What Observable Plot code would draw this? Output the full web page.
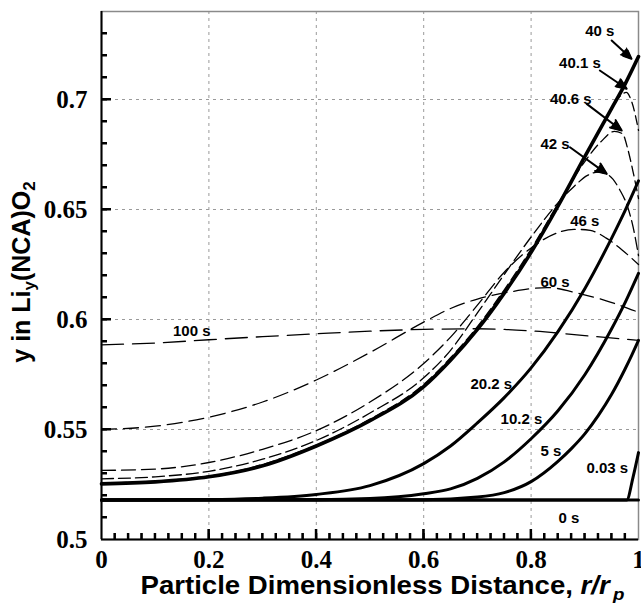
<!DOCTYPE html>
<html><head><meta charset="utf-8">
<script src="https://cdn.jsdelivr.net/npm/d3@7"></script>
<script src="https://cdn.jsdelivr.net/npm/@observablehq/plot@0.6"></script>
<style>body{margin:0;background:#fff}</style>
</head><body><div id="chart"></div>
<script>
// ---- tick values ----
const xMajorTicks = [0, 0.2, 0.4, 0.6, 0.8, 1];
const yMajorTicks = [0.5, 0.55, 0.6, 0.65, 0.7];
const xGridTicks = [0.2, 0.4, 0.6, 0.8];
const yGridTicks = [0.55, 0.6, 0.65, 0.7];
const xMinorTicks = d3.range(1, 40).map(i => +(i * 0.025).toFixed(3));
const yMinorTicks = d3.range(1, 24).map(i => +(0.5 + i * 0.01).toFixed(3));

// ---- series (r/rp, y) ----
const t0_x = [0, 1];
const t0_y = [0.518, 0.518];
const t003_x = [0, 0.978, 0.99, 1];
const t003_y = [0.518, 0.518, 0.5285, 0.5395];
const t5_x = [0, 0.6, 0.7, 0.75, 0.8, 0.85, 0.875, 0.9, 0.925, 0.95, 0.975, 0.9875, 1];
const t5_y = [0.518, 0.5181, 0.5193, 0.5213, 0.5263, 0.5355, 0.5413, 0.548, 0.5563, 0.566, 0.5775, 0.5838, 0.5905];
const t10_x = [0, 0.4, 0.5, 0.6, 0.65, 0.7, 0.75, 0.8, 0.85, 0.9, 0.95, 0.975, 1];
const t10_y = [0.518, 0.5181, 0.5186, 0.5208, 0.523, 0.5278, 0.5353, 0.5458, 0.5585, 0.5749, 0.5958, 0.6077, 0.621];
const t20_x = [0, 0.2, 0.3, 0.4, 0.5, 0.6, 0.65, 0.7, 0.75, 0.8, 0.85, 0.9, 0.95, 0.975, 1];
const t20_y = [0.518, 0.5182, 0.5188, 0.5205, 0.5245, 0.5345, 0.5425, 0.553, 0.5645, 0.578, 0.5945, 0.614, 0.637, 0.6495, 0.663];
const t40_x = [0, 0.1, 0.2, 0.3, 0.4, 0.5, 0.6, 0.65, 0.7, 0.75, 0.8, 0.85, 0.9, 0.95, 0.975, 1];
const t40_y = [0.5253, 0.5262, 0.5285, 0.5335, 0.5425, 0.554, 0.5695, 0.5815, 0.5955, 0.612, 0.6305, 0.6515, 0.674, 0.696, 0.707, 0.7195];
const t401_x = [0, 0.2, 0.4, 0.5, 0.6, 0.65, 0.7, 0.75, 0.8, 0.85, 0.9, 0.94, 0.962, 0.977, 0.988, 1];
const t401_y = [0.5253, 0.5285, 0.5425, 0.5541, 0.5697, 0.5817, 0.5957, 0.6122, 0.6307, 0.6517, 0.674, 0.6915, 0.7005, 0.7032, 0.6985, 0.686];
const t406_x = [0, 0.2, 0.4, 0.5, 0.6, 0.65, 0.7, 0.75, 0.8, 0.85, 0.9, 0.93, 0.955, 0.97, 0.98, 0.99, 1];
const t406_y = [0.5255, 0.5288, 0.5429, 0.5547, 0.5705, 0.5826, 0.5968, 0.6135, 0.632, 0.6525, 0.6718, 0.6808, 0.6855, 0.6845, 0.6775, 0.667, 0.655];
const t42_x = [0, 0.1, 0.2, 0.3, 0.4, 0.5, 0.6, 0.65, 0.7, 0.75, 0.8, 0.85, 0.88, 0.905, 0.925, 0.945, 0.965, 0.98, 0.99, 1];
const t42_y = [0.5276, 0.5285, 0.531, 0.5365, 0.545, 0.5575, 0.5735, 0.586, 0.603, 0.6205, 0.6375, 0.653, 0.6605, 0.6655, 0.667, 0.6655, 0.659, 0.651, 0.642, 0.629];
const t46_x = [0, 0.1, 0.2, 0.3, 0.4, 0.5, 0.6, 0.65, 0.7, 0.75, 0.8, 0.85, 0.88, 0.91, 0.94, 0.97, 1];
const t46_y = [0.5314, 0.532, 0.535, 0.541, 0.5495, 0.5625, 0.58, 0.592, 0.6065, 0.6215, 0.6325, 0.6395, 0.641, 0.6405, 0.637, 0.6315, 0.625];
const t60_x = [0, 0.1, 0.2, 0.3, 0.4, 0.5, 0.6, 0.65, 0.7, 0.76, 0.83, 0.89, 0.94, 1];
const t60_y = [0.55, 0.5515, 0.5556, 0.5625, 0.5725, 0.585, 0.5988, 0.605, 0.6093, 0.6125, 0.6145, 0.6118, 0.6085, 0.6033];
const t100_x = [0, 0.1, 0.2, 0.3, 0.4, 0.5, 0.6, 0.7, 0.8, 0.9, 1];
const t100_y = [0.5885, 0.5893, 0.5908, 0.5922, 0.5935, 0.5947, 0.5955, 0.5958, 0.5948, 0.5927, 0.5905];

// ---- curve labels ----
const labelText = ["40 s", "40.1 s", "40.6 s", "42 s", "46 s", "60 s", "100 s", "20.2 s", "10.2 s", "5 s", "0.03 s", "0 s"];
const labelX = [0.928, 0.891, 0.874, 0.8445, 0.900, 0.8445, 0.168, 0.726, 0.782, 0.837, 0.942, 0.8706];
const labelY = [0.7309, 0.7166, 0.7001, 0.6797, 0.6446, 0.6168, 0.5946, 0.5705, 0.5545, 0.540, 0.5325, 0.5098];

// ---- arrows (label -> curve) ----
const arrowX1 = [0.950, 0.928, 0.9035, 0.8724];
const arrowY1 = [0.7268, 0.7132, 0.698, 0.6783];
const arrowX2 = [0.987, 0.978, 0.9687, 0.9408];
const arrowY2 = [0.7185, 0.7049, 0.6859, 0.6662];

// ---- build tables ----
const toRows = (xs, ys) => xs.map((x, i) => ({x, y: ys[i]}));
const solidSeries = [
  {rows: toRows(t0_x, t0_y), w: 3},
  {rows: toRows(t003_x, t003_y), w: 3},
  {rows: toRows(t5_x, t5_y), w: 3},
  {rows: toRows(t10_x, t10_y), w: 3},
  {rows: toRows(t20_x, t20_y), w: 3},
  {rows: toRows(t40_x, t40_y), w: 3.6}
];
const dashedSeries = [
  {rows: toRows(t401_x, t401_y), dash: "9,5"},
  {rows: toRows(t406_x, t406_y), dash: "10,5"},
  {rows: toRows(t42_x, t42_y), dash: "12,5"},
  {rows: toRows(t46_x, t46_y), dash: "14,6"},
  {rows: toRows(t60_x, t60_y), dash: "15,7"},
  {rows: toRows(t100_x, t100_y), dash: "22,9"}
];
const labels = labelText.map((t, i) => ({t, x: labelX[i], y: labelY[i]}));
const arrows = arrowX1.map((x1, i) => ({x1, y1: arrowY1[i], x2: arrowX2[i], y2: arrowY2[i]}));
const fmt = d => String(+(+d).toFixed(2));

const serif = "'Liberation Serif', 'Times New Roman', serif";
const sans = "'Liberation Sans', Arial, sans-serif";

function build(geo) {
  const marks = [
    Plot.gridX(xGridTicks, {stroke: "#9a9a9a", strokeOpacity: 1, strokeDasharray: "3,4"}),
    Plot.gridY(yGridTicks, {stroke: "#9a9a9a", strokeOpacity: 1, strokeDasharray: "3,4"}),
    Plot.frame({stroke: "#8a8a8a", strokeWidth: 1.5}),
    ...dashedSeries.map(s => Plot.line(s.rows, {x: "x", y: "y", stroke: "#000", strokeWidth: 1.3,
      strokeDasharray: s.dash, curve: "monotone-x"})),
    ...solidSeries.map(s => Plot.line(s.rows, {x: "x", y: "y", stroke: "#000", strokeWidth: s.w,
      curve: "monotone-x"})),
    Plot.ruleX([0], {stroke: "#000", strokeWidth: 2}),
    Plot.ruleY([0.5], {stroke: "#000", strokeWidth: 2}),
    Plot.axisX(xMajorTicks, {tickSize: 0, tickPadding: 11, tickFormat: fmt, label: null,
      fontFamily: serif, fontWeight: "bold", fontSize: 25, fill: "#000"}),
    Plot.axisY(yMajorTicks, {tickSize: 0, tickPadding: 14, tickFormat: fmt, label: null,
      fontFamily: serif, fontWeight: "bold", fontSize: 25, fill: "#000"}),
    Plot.arrow(arrows, {x1: "x1", y1: "y1", x2: "x2", y2: "y2", stroke: "#000", strokeWidth: 2,
      headLength: 9, headAngle: 45}),
    Plot.text(labels, {x: "x", y: "y", text: "t", fontSize: 15, fontWeight: "bold",
      fontFamily: sans, fill: "#000"})
  ];
  if (geo) {
    // inward ticks on bottom and left axes (rules trimmed to a few pixels)
    marks.push(
      Plot.ruleX(xMinorTicks, {x: d => d, insetTop: geo.h - 6, stroke: "#000", strokeWidth: 2}),
      Plot.ruleX(xMajorTicks.slice(1, -1), {x: d => d, insetTop: geo.h - 10, stroke: "#000", strokeWidth: 2}),
      Plot.ruleY(yMinorTicks, {y: d => d, insetRight: geo.w - 6, stroke: "#000", strokeWidth: 2}),
      Plot.ruleY(yMajorTicks.slice(1), {y: d => d, insetRight: geo.w - 10, stroke: "#000", strokeWidth: 2}),
      Plot.vector(arrows, {x: "x2", y: "y2", length: 11, anchor: "end", shape: "spike", r: 4.5,
        rotate: (d, i) => geo.angles[i], fill: "#000", stroke: "#000", strokeWidth: 1})
    );
  }
  return Plot.plot({
    width: 641, height: 609,
    marginLeft: 101, marginRight: 3, marginTop: 11, marginBottom: 70,
    style: {fontFamily: sans, background: "#fff", overflow: "visible"},
    x: {domain: [0, 1], label: null},
    y: {domain: [0.5, 0.74], label: null},
    marks
  });
}

// first pass to obtain scales; then tick lengths and arrowhead directions in screen space
const probe = build(null);
const X = probe.scale("x"), Y = probe.scale("y");
const geo = {
  w: Math.abs(X.range[1] - X.range[0]),
  h: Math.abs(Y.range[0] - Y.range[1]),
  angles: arrows.map(a => {
    const dx = X.apply(a.x2) - X.apply(a.x1), dy = Y.apply(a.y2) - Y.apply(a.y1);
    return Math.atan2(dx, -dy) * 180 / Math.PI;
  })
};
const chart = build(geo);
document.getElementById("chart").appendChild(chart);

const sx = chart.scale("x"), sy = chart.scale("y");
const svg = d3.select(chart);

// extra tick overlay drawn through Plot's own scales (guarantees the inward tick comb is present)
const x0 = sx.apply(0), yb = sy.apply(0.5);
const tg = svg.append("g").attr("stroke", "#000").attr("stroke-width", 2);
xMinorTicks.forEach(v => {
  const L = xMajorTicks.includes(v) ? 10 : 6;
  tg.append("line").attr("x1", sx.apply(v)).attr("x2", sx.apply(v)).attr("y1", yb).attr("y2", yb - L);
});
yMinorTicks.forEach(v => {
  const L = yMajorTicks.includes(v) ? 10 : 6;
  tg.append("line").attr("y1", sy.apply(v)).attr("y2", sy.apply(v)).attr("x1", x0).attr("x2", x0 + L);
});

// axis titles with italic / subscript parts
const xt = svg.append("text")
  .attr("x", (sx.range[0] + sx.range[1]) / 2 + 13).attr("y", sy.range[0] + 55)
  .attr("text-anchor", "middle").attr("font-family", sans).attr("font-weight", "bold")
  .attr("font-size", 25).attr("fill", "#000")
  .attr("textLength", 484).attr("lengthAdjust", "spacingAndGlyphs");
xt.append("tspan").text("Particle Dimensionless Distance, ");
xt.append("tspan").attr("font-style", "italic").text("r/r");
xt.append("tspan").attr("font-style", "italic").attr("font-size", 17).attr("dx", 3).attr("dy", 6).text("p");

const yt = svg.append("text")
  .attr("transform", `translate(30,${(sy.range[0] + sy.range[1]) / 2 - 3}) rotate(-90)`)
  .attr("text-anchor", "middle").attr("font-family", sans).attr("font-weight", "bold")
  .attr("font-size", 25).attr("fill", "#000");
yt.append("tspan").text("y in Li");
yt.append("tspan").attr("font-size", 17).attr("dy", 5).text("y");
yt.append("tspan").attr("dy", -5).text("(NCA)O");
yt.append("tspan").attr("font-size", 17).attr("dy", 5).text("2");
</script>
</body></html>
